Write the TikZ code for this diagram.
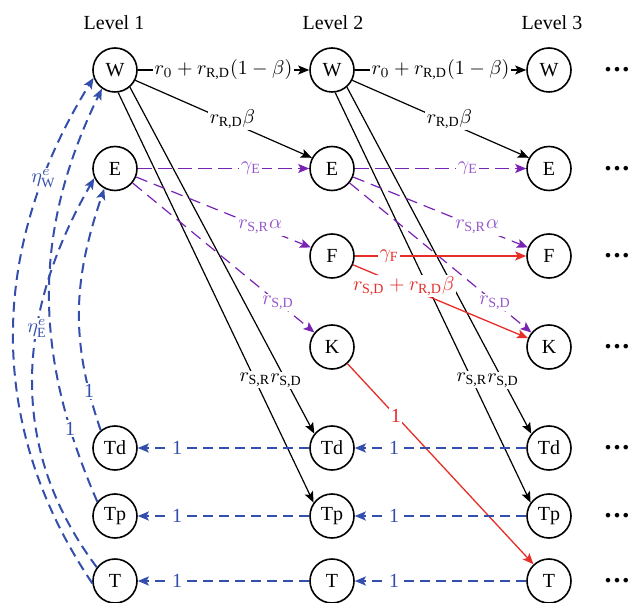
\documentclass[tikz,border=0pt]{standalone}
\usepackage{amsmath,bm}
\usepackage{fontspec}
\setmainfont{Liberation Serif}
\usetikzlibrary{arrows.meta}
\definecolor{myblue}{RGB}{52,78,172}
\definecolor{mypurple}{RGB}{120,35,180}
\definecolor{mypurplelab}{RGB}{150,85,205}
\definecolor{myred}{RGB}{230,45,40}
\begin{document}
\begin{tikzpicture}[x=0.5pt,y=-0.5pt,
  st/.style={circle,draw,line width=0.8pt,minimum size=22pt,inner sep=0pt},
  myarr/.style={-{Stealth[length=5.5pt,width=4.5pt,inset=1.2pt]}},
  blk/.style={myarr,line width=0.6pt,black},
  pur/.style={myarr,line width=0.75pt,mypurple,dash pattern=on 7pt off 3pt},
  pur2/.style={myarr,line width=0.6pt,mypurple,dash pattern=on 6pt off 3.5pt},
  rd/.style={myarr,line width=0.65pt,myred},
  blu/.style={myarr,line width=1pt,myblue,dash pattern=on 5pt off 3pt},
  lab/.style={fill=white,inner sep=0.8pt},
  plab/.style={lab,text=mypurplelab},
  dotsn/.style={font=\fontsize{14}{14}\selectfont\bfseries,inner sep=0pt}
]
\useasboundingbox (0,0) rectangle (630,603);
% level labels
\node[anchor=base] (L1) at (114,30) {Level 1};
\node[anchor=base] (L2) at (333,30) {Level 2};
\node[anchor=base] (L3) at (552,30) {Level 3};
% column 1
\node[st] (W1) at (115,70) {W};
\node[st] (E1) at (115,168.5) {E};
\node[st] (Td1) at (115,448) {Td};
\node[st] (Tp1) at (115,516) {Tp};
\node[st] (T1) at (115,581) {T};
% column 2
\node[st] (W2) at (332,70) {W};
\node[st] (E2) at (332,168.5) {E};
\node[st] (F2) at (332,256) {F};
\node[st] (K2) at (332,347) {K};
\node[st] (Td2) at (332,448) {Td};
\node[st] (Tp2) at (332,516) {Tp};
\node[st] (T2) at (332,581) {T};
% column 3
\node[st] (W3) at (549,70) {W};
\node[st] (E3) at (549,168.5) {E};
\node[st] (F3) at (549,256) {F};
\node[st] (K3) at (549,347) {K};
\node[st] (Td3) at (549,448) {Td};
\node[st] (Tp3) at (549,516) {Tp};
\node[st] (T3) at (549,581) {T};
% dots
\node[dotsn] (dW) at (617,70) {.\kern1pt.\kern1pt.};
\node[dotsn] (dE) at (617,168.5) {.\kern1pt.\kern1pt.};
\node[dotsn] (dF) at (617,256) {.\kern1pt.\kern1pt.};
\node[dotsn] (dK) at (617,347) {.\kern1pt.\kern1pt.};
\node[dotsn] (dTd) at (617,448) {.\kern1pt.\kern1pt.};
\node[dotsn] (dTp) at (617,516) {.\kern1pt.\kern1pt.};
\node[dotsn] (dT) at (617,581) {.\kern1pt.\kern1pt.};
% black edges
\draw[blk] (W1.-82) -- node[lab,pos=0.70]{$r_{\text{S,R}}$} (Tp2.144);
\draw[blk] (W1.-49) -- node[lab,pos=0.847]{$r_{\text{S,D}}$} (Td2.141);
\draw[blk] (W2.-82) -- node[lab,pos=0.70]{$r_{\text{S,R}}$} (Tp3.144);
\draw[blk] (W2.-49) -- node[lab,pos=0.847]{$r_{\text{S,D}}$} (Td3.141);
\draw[blk] (W1) -- node[lab]{$r_0+r_{\text{R,D}}(1-\beta)$} (W2);
\draw[blk] (W2) -- node[lab]{$r_0+r_{\text{R,D}}(1-\beta)$} (W3);
\draw[blk] (W1.-27) -- node[lab,pos=0.55,yshift=2pt]{$r_{\text{R,D}}\beta$} (E2.152);
\draw[blk] (W2.-27) -- node[lab,pos=0.55,yshift=2pt]{$r_{\text{R,D}}\beta$} (E3.152);
% purple edges
\draw[pur] (E1) -- node[plab,pos=0.66]{$\gamma_{\text{E}}$} (E2);
\draw[pur] (E2) -- node[plab,pos=0.66]{$\gamma_{\text{E}}$} (E3);
\draw[pur2] (E1) -- node[plab,pos=0.71]{$r_{\text{S,R}}\alpha$} (F2);
\draw[pur2] (E2) -- node[plab,pos=0.71]{$r_{\text{S,R}}\alpha$} (F3);
\draw[pur2] (E1) -- node[plab,pos=0.80]{$r_{\text{S,D}}$} (K2);
\draw[pur2] (E2) -- node[plab,pos=0.80]{$r_{\text{S,D}}$} (K3);
% red edges
\draw[rd] (F2) -- node[lab,pos=0.2]{$\gamma_{\text{F}}$} (F3);
\draw[rd] (F2) -- node[lab,pos=0.29]{$r_{\text{S,D}}+r_{\text{R,D}}\beta$} (K3);
\draw[rd] (K2) -- node[lab,pos=0.26]{1} (T3);
% blue horizontal edges
\draw[blu] (Td2) -- node[lab,pos=0.77]{1} (Td1);
\draw[blu] (Tp2) -- node[lab,pos=0.77]{1} (Tp1);
\draw[blu] (T2) -- node[lab,pos=0.77]{1} (T1);
\draw[blu] (Td3) -- node[lab,pos=0.77]{1} (Td2);
\draw[blu] (Tp3) -- node[lab,pos=0.77]{1} (Tp2);
\draw[blu] (T3) -- node[lab,pos=0.77]{1} (T2);
% blue curves
\draw[blu] (T1.186) .. controls +(-109,-162) and +(-103,166) .. node[lab,pos=0.8]{$\eta^{e}_{\text{W}}$} (W1.200);
\draw[blu] (Tp1.141) .. controls +(-64,-147) and +(-70,144) .. node[lab,pos=0.17]{1} (W1.235);
\draw[blu] (T1.143) .. controls +(-102,-136) and +(-65,113) .. node[lab,pos=0.59]{$\eta^{e}_{\text{E}}$} (E1.205);
\draw[blu] (Td1.129) .. controls +(-31,-91) and +(-31,91) .. node[lab,pos=0.15]{1} (E1.242);
\end{tikzpicture}
\end{document}
